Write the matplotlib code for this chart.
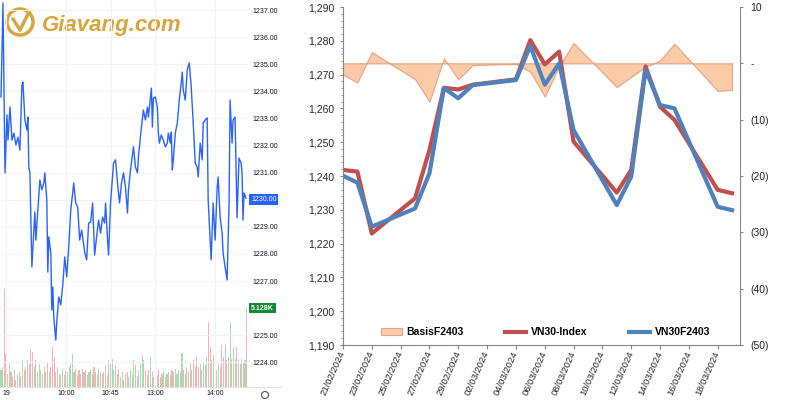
import matplotlib
matplotlib.use('Agg')
import matplotlib.pyplot as plt
import matplotlib.dates as mdates
import matplotlib.ticker as mticker
from matplotlib.patches import Circle
import numpy as np
import pandas as pd

plt.rcParams['font.family'] = ['Liberation Sans', 'DejaVu Sans']

# ---- daily data: VN30 index vs VN30F2403 futures ----
trade_dates = ['21/02/2024', '22/02/2024', '23/02/2024', '26/02/2024', '27/02/2024',
               '28/02/2024', '29/02/2024', '01/03/2024', '04/03/2024', '05/03/2024',
               '06/03/2024', '07/03/2024', '08/03/2024', '11/03/2024', '12/03/2024',
               '13/03/2024', '14/03/2024', '15/03/2024', '18/03/2024', '19/03/2024']
vn30_index = [1241.8, 1241.3, 1223.0, 1233.4, 1247.7, 1266.1, 1265.6, 1267.0, 1268.6, 1280.2,
              1273.0, 1276.8, 1250.2, 1235.1, 1241.8, 1272.4, 1260.5, 1256.6, 1235.9, 1234.9]
vn30f2403 = [1240.1, 1238.0, 1225.0, 1230.4, 1240.8, 1266.0, 1263.0, 1266.9, 1268.4, 1278.5,
             1267.0, 1273.3, 1253.6, 1231.4, 1239.8, 1271.4, 1261.0, 1260.0, 1230.9, 1229.9]
basis = [-2.0, -3.4, 2.0, -2.8, -6.8, 0.9, -2.8, -0.3, -0.1, -1.5,
         -5.9, -0.5, 3.6, -4.2, -2.4, -0.6, 0.5, 3.5, -4.9, -4.7]

# ---- intraday data (session minutes, price) ----
intraday_min = [0, 2, 4, 6, 7, 9, 11, 13, 15, 17, 19, 21, 22, 24, 26, 27, 28, 29, 31, 34,
                35, 37, 39, 41, 43, 44, 46, 47, 48, 50, 51, 52, 53, 55, 56, 58, 60, 62, 64, 66,
                68, 70, 72, 73, 75, 77, 79, 81, 84, 86, 88, 90, 92, 94, 96, 98, 100, 102, 104, 105,
                107, 108, 110, 112, 113, 115, 117, 119, 121, 123, 125, 127, 128, 130, 133, 135, 137, 138, 141, 143,
                145, 147, 148, 151, 152, 153, 155, 157, 158, 159, 161, 163, 165, 167, 168, 170, 171, 172, 173, 175,
                177, 179, 181, 182, 183, 185, 187, 189, 191, 193, 194, 195, 197, 198, 200, 202, 203, 205, 207, 208,
                211, 213, 215, 217, 218, 220, 222, 223, 225, 227, 228, 229, 230, 232, 233, 235, 237, 239, 241, 242,
                243, 244, 246]
intraday_price = [1233.79, 1237.26, 1230.99, 1233.13, 1232.20, 1233.42, 1232.20, 1232.46, 1232.02, 1232.31,
                  1231.83, 1234.23, 1234.34, 1232.94, 1232.57, 1233.05, 1231.17, 1231.02, 1227.52, 1229.55,
                  1228.51, 1229.62, 1230.73, 1230.36, 1230.62, 1230.99, 1229.99, 1227.33, 1228.63, 1228.03,
                  1225.93, 1226.78, 1225.67, 1224.82, 1225.49, 1226.41, 1226.12, 1226.85, 1227.89, 1227.15,
                  1228.26, 1229.62, 1230.25, 1230.62, 1229.88, 1229.73, 1228.51, 1228.88, 1228.07, 1227.78,
                  1229.14, 1229.18, 1229.88, 1227.96, 1228.63, 1229.25, 1228.77, 1229.36, 1229.14, 1229.88,
                  1228.51, 1227.96, 1229.88, 1230.84, 1231.36, 1231.47, 1230.62, 1229.88, 1230.62, 1230.99,
                  1230.47, 1229.51, 1230.36, 1231.10, 1231.95, 1231.21, 1230.99, 1231.58, 1232.68, 1233.31,
                  1232.94, 1233.42, 1233.05, 1234.12, 1232.68, 1233.75, 1233.79, 1233.42, 1232.46, 1232.09,
                  1232.39, 1232.20, 1231.95, 1232.09, 1232.46, 1232.09, 1232.50, 1231.10, 1231.47, 1232.46,
                  1232.83, 1233.68, 1234.31, 1234.71, 1234.05, 1233.68, 1234.79, 1235.05, 1234.16, 1232.83,
                  1232.09, 1231.36, 1231.21, 1230.84, 1232.09, 1231.47, 1232.83, 1232.94, 1233.02, 1229.99,
                  1227.78, 1229.88, 1228.51, 1230.43, 1230.84, 1229.36, 1228.77, 1228.03, 1227.52, 1227.04,
                  1228.40, 1229.88, 1233.68, 1232.09, 1232.94, 1233.05, 1229.33, 1231.54, 1231.36, 1231.02,
                  1229.25, 1230.25, 1230.06]
volume = [17, 20, 98, 33, 13, 23, 15, 10, 17, 7, 12, 15, 10, 27, 17, 20, 27, 23, 37, 35,
          20, 27, 15, 23, 17, 13, 20, 15, 25, 15, 20, 40, 30, 15, 20, 13, 12, 18, 12, 17,
          15, 20, 23, 33, 15, 18, 12, 17, 13, 18, 15, 17, 12, 15, 17, 13, 20, 15, 12, 18,
          15, 13, 15, 22, 12, 27, 23, 28, 17, 22, 13, 18,
          10, 15, 7, 13, 15, 10, 17, 12, 27, 22, 10, 17, 23, 32, 27, 17, 12, 17, 30, 15,
          10, 15, 12, 17, 10, 13, 15, 10, 13, 15, 12, 17, 15, 18, 13, 17, 15, 34, 17, 13,
          20, 15, 23, 17, 27, 20, 30, 20, 23, 17, 25, 22, 30, 65, 40, 27, 32, 23, 17, 25,
          20, 42, 30, 42, 27, 30, 65, 28, 40, 28, 40, 27, 23, 28, 25, 27, 80]
time_ticks = [5, 65, 110, 155, 215]
time_labels = ['19', '10:00', '10:45', '13:00', '14:00']
price_levels = list(range(1224, 1238))

fig = plt.figure(figsize=(8, 4), dpi=100)
fig.patch.set_facecolor('white')

# ================= left: intraday panel =================
axL = fig.add_axes([0.0, 13 / 400, 248 / 800, 387 / 400])
axV = axL.twinx()
axL.set_zorder(axV.get_zorder() + 1)
axL.patch.set_visible(False)

minutes = np.array(intraday_min)
prices = np.array(intraday_price)
vol_t = np.linspace(0, 246.7, len(volume))
vol_p = np.interp(vol_t, minutes, prices)
up = np.diff(vol_p, prepend=vol_p[0]) >= 0
vol_colors = np.where(up, '#add9b0', '#f6b2b2')
axV.bar(vol_t, volume, width=1.1, color=vol_colors, linewidth=0)
axV.set_ylim(0, 387)
axV.axis('off')

axL.plot(minutes, prices, color='#2962ff', lw=1.0)
axL.set_xlim(-1, 248)
axL.set_ylim(1223.09, 1237.37)
axL.yaxis.tick_right()
axL.set_yticks(price_levels)
axL.set_yticklabels(['' if v in (1226, 1230) else f'{v}.00' for v in price_levels])
axL.tick_params(axis='y', length=0, pad=3, labelsize=5, labelcolor='#131722')
axL.set_xticks(time_ticks)
axL.set_xticklabels(time_labels)
axL.tick_params(axis='x', length=0, pad=2, labelsize=5, labelcolor='#131722')
axL.grid(True, color='#f0f3fa', lw=0.8)
for s in axL.spines.values():
    s.set_visible(False)

trans = axL.get_yaxis_transform()
axL.text(1.012, 1230.0, '1230.00', transform=trans, fontsize=5, color='white',
         va='center', ha='left',
         bbox=dict(boxstyle='square,pad=0.25', fc='#2962ff', ec='none'))
axL.text(1.012, 1226.0, '5.128K', transform=trans, fontsize=5, color='white',
         va='center', ha='left', weight='bold',
         bbox=dict(boxstyle='square,pad=0.25', fc='#0f8a2e', ec='none'))

# ================= right: Excel-like chart =================
axR = fig.add_axes([343 / 800, 55 / 400, 397 / 800, 338 / 400])
axB = axR.twinx()
axR.set_zorder(axB.get_zorder() + 1)
axR.patch.set_visible(False)

d = pd.to_datetime(trade_dates, format='%d/%m/%Y')
area = axB.fill_between(d, 0, basis, facecolor='#fbcba7', edgecolor='#e8a283', lw=0.8,
                        label='BasisF2403')
l1, = axR.plot(d, vn30_index, color='#c0504d', lw=3, label='VN30-Index')
l2, = axR.plot(d, vn30f2403, color='#4f81bd', lw=3, label='VN30F2403')

x0 = mdates.date2num(d[0])
axR.set_xlim(x0, x0 + 27.55)
axR.set_xticks(pd.date_range(d[0], d[-1], freq='2D'))
axR.xaxis.set_major_formatter(mdates.DateFormatter('%d/%m/%Y'))
for lab in axR.get_xticklabels():
    lab.set_rotation(66)
    lab.set_ha('right')
    lab.set_va('center')
    lab.set_rotation_mode('anchor')

axR.set_ylim(1190, 1290)
axR.set_yticks(range(1190, 1291, 10))
axR.yaxis.set_major_formatter(mticker.FuncFormatter(lambda v, p: f'{v:,.0f}'))
axR.yaxis.set_minor_locator(mticker.MultipleLocator(2))

axB.set_ylim(-50, 10)
axB.set_yticks(range(-50, 11, 10))


def acc_fmt(v, p):
    if abs(v) < 1e-9:
        return '-'
    if v < 0:
        return f'({-v:.0f})'
    return f'{v:.0f}'


axB.yaxis.set_major_formatter(mticker.FuncFormatter(acc_fmt))

gray = '#868686'
for s in ['top', 'right']:
    axR.spines[s].set_visible(False)
for s in ['left', 'bottom']:
    axR.spines[s].set_color(gray)
for s in ['top', 'left', 'bottom']:
    axB.spines[s].set_visible(False)
axB.spines['right'].set_color(gray)

axR.tick_params(axis='y', which='major', length=2.5, width=0.8, color=gray, pad=4,
                labelsize=7.5, labelcolor='#262626')
axR.tick_params(axis='y', which='minor', length=1.5, width=0.6, color=gray)
axR.tick_params(axis='x', length=3, width=0.8, color=gray, pad=1.5,
                labelsize=6.8, labelcolor='#262626')
axB.tick_params(axis='y', length=2.5, width=0.8, color=gray, pad=5,
                labelsize=7.5, labelcolor='#262626')

axR.legend([area, l1, l2], ['BasisF2403', 'VN30-Index', 'VN30F2403'],
           loc='lower center', bbox_to_anchor=(0.51, 0.01), ncol=3, frameon=False,
           prop={'weight': 'bold', 'size': 7.5}, handlelength=2.0,
           handletextpad=0.45, columnspacing=4.0, borderaxespad=0)

# ================= overlay: logo and screenshot decorations =================
ax_o = fig.add_axes([0, 0, 1, 1])
ax_o.set_xlim(0, 800)
ax_o.set_ylim(400, 0)
ax_o.axis('off')
ax_o.plot([0, 282], [387, 387], color='#e0e3eb', lw=0.8)
gold = '#d6a63c'
ax_o.add_patch(Circle((20, 22), 13, fill=False, ec=gold, lw=2.5))
ax_o.plot([13, 20, 29], [19, 30, 12], color=gold, lw=2.5, solid_capstyle='round')
ax_o.text(42, 31, 'Giavang.com', fontsize=16, color=gold, weight='bold', style='italic',
          va='baseline', ha='left')
ax_o.add_patch(Circle((265, 395), 3.5, fill=False, ec='#555555', lw=0.8))

fig.savefig('out.png', dpi=100, facecolor='white')
